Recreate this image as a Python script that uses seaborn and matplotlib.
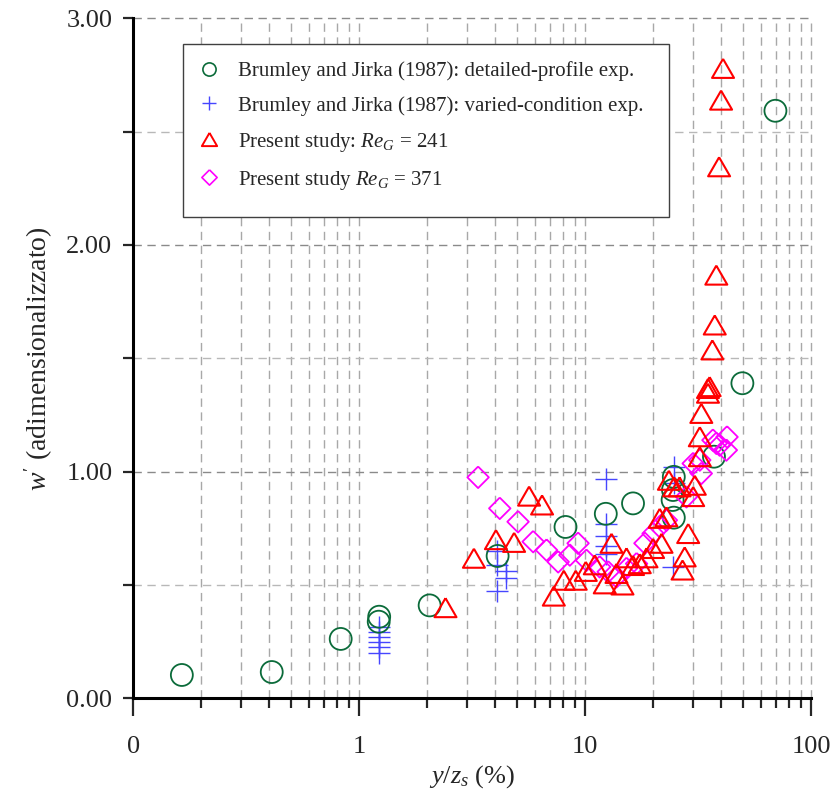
import matplotlib
matplotlib.use("Agg")
import matplotlib.pyplot as plt
from matplotlib.lines import Line2D
from matplotlib.patches import Rectangle
from matplotlib.ticker import LogLocator, MultipleLocator, NullFormatter
import seaborn as sns

# Brumley and Jirka (1987): detailed-profile experiments
bj_profile_x = [0.164, 0.41, 0.828, 1.226, 1.22, 2.05, 4.10, 8.19, 12.35, 16.3,
                24.7, 24.5, 24.4, 24.7, 37.2, 49.7, 69.6]
bj_profile_y = [0.103, 0.116, 0.262, 0.360, 0.338, 0.410, 0.628, 0.756, 0.814, 0.860,
                0.977, 0.919, 0.875, 0.797, 1.066, 1.390, 2.592]

# Brumley and Jirka (1987): varied-condition experiments
bj_varied_x = [1.22, 1.22, 1.22, 1.22, 1.22, 1.22,
               4.07, 4.07, 4.07, 4.46, 4.46,
               12.35, 12.35, 12.35, 12.35, 12.35,
               24.7, 24.7, 24.5]
bj_varied_y = [0.316, 0.294, 0.272, 0.250, 0.228, 0.201,
               0.650, 0.589, 0.475, 0.563, 0.529,
               0.966, 0.769, 0.716, 0.673, 0.637,
               1.020, 0.950, 0.580]

# Present study, Re_G = 241
re241_x = [2.41, 3.22, 4.03, 4.85, 5.65, 6.45, 7.27, 8.05, 9.09, 10.07,
           11.04, 12.22, 13.09, 13.77, 14.64, 15.25, 16.3, 17.46, 18.7, 20.0,
           21.8, 21.4, 22.9, 23.5, 24.8, 26.2, 30.1, 30.6, 28.6, 27.6,
           27.0, 32.2, 32.2, 32.7, 35.0, 35.6, 35.0, 36.6, 37.5, 38.1,
           39.2, 40.0, 40.8]
re241_y = [0.400, 0.618, 0.700, 0.688, 0.892, 0.853, 0.451, 0.521, 0.521, 0.560,
           0.589, 0.505, 0.684, 0.551, 0.500, 0.620, 0.586, 0.594, 0.620, 0.661,
           0.684, 0.794, 0.801, 0.962, 0.933, 0.933, 0.890, 0.940, 0.727, 0.624,
           0.566, 1.066, 1.154, 1.257, 1.346, 1.375, 1.367, 1.537, 1.647, 1.867,
           2.345, 2.639, 2.779]

# Present study, Re_G = 371
re371_x = [3.36, 4.19, 5.05, 5.89, 6.75, 7.60, 8.56, 9.31, 10.14, 11.6,
           12.65, 13.77, 15.25, 16.9, 18.4, 20.0, 21.4, 22.9, 28.1, 30.1,
           32.7, 32.2, 36.8, 39.4, 42.2, 42.5, 38.1]
re371_y = [0.975, 0.838, 0.779, 0.691, 0.654, 0.602, 0.632, 0.684, 0.609, 0.580,
           0.558, 0.536, 0.573, 0.594, 0.684, 0.727, 0.757, 0.786, 0.889, 1.036,
           0.992, 1.051, 1.139, 1.117, 1.095, 1.153, 1.125]

x_tick_values = [0.1, 1, 10, 100]
x_tick_labels = ["0", "1", "10", "100"]
y_tick_values = [0, 1, 2, 3]
y_tick_labels = ["0.00", "1.00", "2.00", "3.00"]

legend_labels = [
    "Brumley and Jirka (1987): detailed-profile exp.",
    "Brumley and Jirka (1987): varied-condition exp.",
    r"Present study: $Re_G$ = 241",
    r"Present study $Re_G$ = 371",
]

sns.set_style("white")
plt.rcParams["font.family"] = ["Liberation Serif", "DejaVu Serif"]
plt.rcParams["mathtext.fontset"] = "custom"
plt.rcParams["mathtext.rm"] = "Liberation Serif"
plt.rcParams["mathtext.it"] = "Liberation Serif:italic"

GREEN = "#0b6b3a"
BLUE = "#4646ff"
RED = "#ff0000"
MAGENTA = "#ff00ff"

triangle = [(0, 0.866), (-1, -0.866), (1, -0.866), (0, 0.866)]
diamond = [(0, 1), (1, 0), (0, -1), (-1, 0), (0, 1)]

fig = plt.figure(figsize=(8.39, 7.99), dpi=100)
ax = fig.add_axes([0.1589, 0.1260, 0.8077, 0.8511])
ax.set_xscale("log")

sns.scatterplot(x=bj_varied_x, y=bj_varied_y, marker="+", s=270, color=BLUE,
                linewidths=1.0, ax=ax, zorder=4)
sns.scatterplot(x=bj_profile_x, y=bj_profile_y, marker="o", s=250,
                facecolor="none", edgecolor=GREEN, linewidth=1.3, ax=ax, zorder=5)
sns.scatterplot(x=re241_x, y=re241_y, marker=triangle, s=250,
                facecolor="none", edgecolor=RED, linewidth=1.5, ax=ax, zorder=6)
sns.scatterplot(x=re371_x, y=re371_y, marker=diamond, s=240,
                facecolor="none", edgecolor=MAGENTA, linewidth=1.3, ax=ax, zorder=5)

ax.set_xlim(0.1, 100)
ax.set_ylim(0, 3)

# ticks
ax.set_xticks(x_tick_values)
ax.set_xticklabels(x_tick_labels)
ax.xaxis.set_minor_locator(LogLocator(base=10, subs=range(2, 10)))
ax.xaxis.set_minor_formatter(NullFormatter())
ax.set_yticks(y_tick_values)
ax.set_yticklabels(y_tick_labels)
ax.yaxis.set_minor_locator(MultipleLocator(0.5))

ax.tick_params(axis="x", which="major", direction="out", length=13, width=1.6,
               pad=14, labelsize=19, bottom=True)
ax.tick_params(axis="x", which="minor", direction="out", length=7, width=1.6,
               bottom=True)
ax.tick_params(axis="y", which="both", direction="out", length=7, width=1.6,
               pad=8, labelsize=19, left=True)

for side in ("top", "right"):
    ax.spines[side].set_visible(False)
for side in ("left", "bottom"):
    ax.spines[side].set_linewidth(2.2)
    ax.spines[side].set_color("black")

# dashed grid
ax.set_axisbelow(True)
ax.grid(True, axis="y", which="major", color="#8a8a8a", linestyle=(0, (6, 4)),
        linewidth=1.0)
ax.grid(True, axis="y", which="minor", color="#b8b8b8", linestyle=(0, (6, 4)),
        linewidth=1.0)
ax.grid(True, axis="x", which="both", color="#a8a8a8", linestyle=(0, (6, 4)),
        linewidth=1.0)
for gl in ax.get_xgridlines() + ax.get_ygridlines():
    gl.set_clip_on(False)

ax.set_xlabel(r"$y/z_s$ (%)", fontsize=19, labelpad=4)
ax.set_ylabel(r"$w'$ (adimensionalizzato)", fontsize=20, labelpad=8)

# legend box
ax.add_patch(Rectangle((0.0738, 0.708), 0.717, 0.254, transform=ax.transAxes,
                       facecolor="white", edgecolor="#404040", linewidth=1.0,
                       zorder=7))
handles = [
    Line2D([], [], linestyle="none", marker="o", markersize=9.5,
           markerfacecolor="none", markeredgecolor=GREEN, markeredgewidth=1.2),
    Line2D([], [], linestyle="none", marker="+", markersize=10,
           color=BLUE, markeredgewidth=1.0),
    Line2D([], [], linestyle="none", marker=triangle, markersize=11,
           markerfacecolor="none", markeredgecolor=RED, markeredgewidth=1.4),
    Line2D([], [], linestyle="none", marker=diamond, markersize=11,
           markerfacecolor="none", markeredgecolor=MAGENTA, markeredgewidth=1.2),
]
leg = ax.legend(handles, legend_labels, loc="upper left",
                bbox_to_anchor=(0.0964, 0.937), frameon=False, fontsize=15,
                handlelength=1.0, handletextpad=0.88, borderpad=0,
                borderaxespad=0, labelspacing=0.72)
leg.set_zorder(8)

fig.savefig("out.png", dpi=100)
